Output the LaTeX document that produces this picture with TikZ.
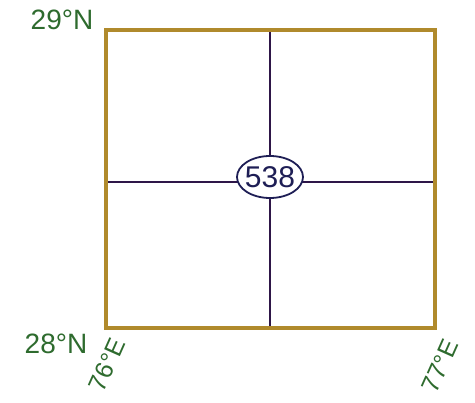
\documentclass[tikz,border=0pt]{standalone}
\usepackage{fontspec}
\setmainfont{Liberation Sans}
\usetikzlibrary{shapes.geometric}
\definecolor{gold}{HTML}{B08A2C}
\definecolor{grid}{HTML}{2E1648}
\definecolor{lab}{HTML}{2E6B2E}
\definecolor{navy}{HTML}{1E1E55}
\begin{document}
\begin{tikzpicture}[x=1pt,y=-1pt,
  lbl/.style={text=lab,font=\fontsize{28}{30}\selectfont,inner sep=0pt},
  rlbl/.style={text=lab,font=\fontsize{25}{27}\selectfont,inner sep=0pt,rotate=66},
  frame/.style={draw=gold,line width=3.5pt,line join=miter},
  gridline/.style={draw=grid,line width=2pt},
  cell/.style={ellipse,draw=navy,line width=1.8pt,fill=white,text=navy,minimum width=66pt,minimum height=42pt,inner xsep=-10pt,inner ysep=0pt,font=\fontsize{30}{32}\selectfont}]
\useasboundingbox (0,0) rectangle (475,403);
\coordinate (nw) at (106,30);
\coordinate (ne) at (435,30);
\coordinate (sw) at (106,328);
\coordinate (se) at (435,328);
\coordinate (tm) at (270,30);
\coordinate (bm) at (270,328);
\coordinate (lm) at (106,182);
\coordinate (rm) at (435,182);
\draw[gridline] (tm) -- (bm);
\draw[gridline] (lm) -- (rm);
\draw[frame] (nw) -- (ne) -- (se) -- (sw) -- cycle;
\node[cell] (c) at (270,177) {538};
\node[lbl] (n29) at (62,20) {29°N};
\node[lbl] (n28) at (56,344) {28°N};
\node[rlbl] (e76) at (107,365) {76°E};
\node[rlbl] (e77) at (440,366) {77°E};
\end{tikzpicture}
\end{document}
